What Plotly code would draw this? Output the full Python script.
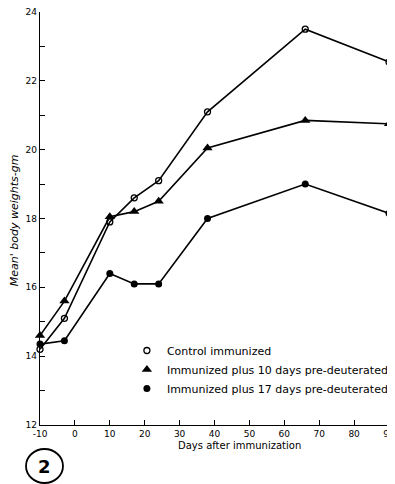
import plotly.graph_objects as go

days = [-10, -3, 10, 17, 24, 38, 66, 90]
control = [14.2, 15.1, 17.9, 18.6, 19.1, 21.1, 23.5, 22.55]
plus10 = [14.6, 15.6, 18.05, 18.2, 18.5, 20.05, 20.85, 20.75]
plus17 = [14.35, 14.45, 16.4, 16.1, 16.1, 18.0, 19.0, 18.15]

names = ["Control immunized",
         "Immunized plus 10 days pre-deuterated",
         "Immunized plus 17 days pre-deuterated"]

x_ticks = [-10, 0, 10, 20, 30, 40, 50, 60, 70, 80, 90]
x_ticktext = ["-10", "0", "10", "20", "30", "40", "50", "60", "70", "80", "90"]
y_ticks = [12, 13, 14, 15, 16, 17, 18, 19, 20, 21, 22, 23, 24]
y_ticktext = ["12", "", "14", "", "16", "", "18", "", "20", "", "22", "", "24"]

FONT = "DejaVu Sans"
series = [
    (control, dict(symbol="circle-open", size=6, color="black", line=dict(width=1.3, color="black"))),
    (plus10, dict(symbol="triangle-up", size=9, color="black")),
    (plus17, dict(symbol="circle", size=7, color="black")),
]

fig = go.Figure()
for (vals, mk), nm in zip(series, names):
    fig.add_trace(go.Scatter(x=days, y=vals, mode="lines+markers",
                             line=dict(color="black", width=1.6),
                             marker=mk, showlegend=False, cliponaxis=False))
for (vals, mk), nm in zip(series, names):
    fig.add_trace(go.Scatter(x=[None], y=[None], mode="markers", marker=mk,
                             name=nm, showlegend=True))

# page body has an 8px margin, so the figure is 8px smaller than the window
fig.update_layout(
    width=387, height=476,
    margin=dict(l=32, r=6, t=4, b=59, autoexpand=False),
    paper_bgcolor="white", plot_bgcolor="white",
    font=dict(family=FONT, color="black"),
    legend=dict(x=0.249, y=0.2155, xanchor="left", yanchor="top",
                font=dict(size=11, family=FONT), itemwidth=30,
                bgcolor="rgba(0,0,0,0)", tracegroupgap=0),
    xaxis=dict(range=[-10, 90], tickvals=x_ticks, ticktext=x_ticktext,
               ticks="inside", ticklen=5, tickwidth=1.2, tickcolor="black",
               showline=True, linecolor="black", linewidth=1.4,
               showgrid=False, zeroline=False, automargin=False,
               ticklabeloverflow="allow",
               tickfont=dict(size=9, family=FONT)),
    yaxis=dict(range=[12, 24], tickvals=y_ticks, ticktext=y_ticktext,
               ticks="inside", ticklen=5, tickwidth=1.2, tickcolor="black",
               showline=True, linecolor="black", linewidth=1.4,
               showgrid=False, zeroline=False, automargin=False,
               ticklabeloverflow="allow",
               tickfont=dict(size=9, family=FONT)),
    annotations=[
        dict(text="Days after immunization", xref="paper", yref="paper",
             x=0.573, y=-0.0303, xanchor="center", yanchor="top", showarrow=False,
             font=dict(size=10, family=FONT)),
        dict(text="<i>Mean' body weights-gm</i>", xref="paper", yref="paper",
             x=-0.0742, y=0.496, xanchor="center", yanchor="middle", textangle=-90,
             showarrow=False, font=dict(size=11, family=FONT)),
        dict(text="<b>2</b>", xref="paper", yref="paper",
             x=0.0129, y=-0.0993, xanchor="center", yanchor="middle",
             showarrow=False, font=dict(size=18, family=FONT)),
    ],
    shapes=[
        dict(type="circle", xref="paper", yref="paper",
             x0=-0.0401, x1=0.0659, y0=-0.1404, y1=-0.0581,
             line=dict(color="black", width=1.8)),
    ],
)

fig.write_html("out.html")
